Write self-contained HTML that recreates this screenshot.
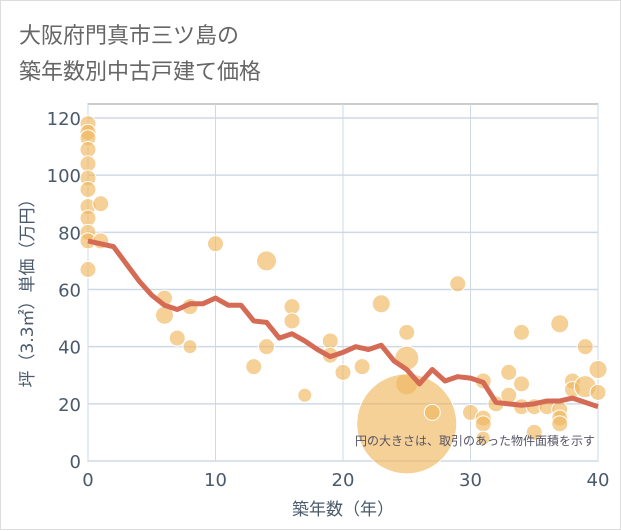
<!DOCTYPE html>
<html><head><meta charset="utf-8"><style>
body{margin:0;background:#fff;}
#c{position:relative;width:621px;height:530px;background:#fff;border:1px solid #ddd;box-sizing:border-box;font-family:"DejaVu Sans","Noto Sans CJK JP",sans-serif;}
</style></head><body>
<div id="c">
<svg width="621" height="530" style="position:absolute;left:0;top:0">
<text x="18" y="42" font-size="22" fill="#666" font-family="DejaVu Sans,Noto Sans CJK JP,sans-serif">大阪府門真市三ツ島の</text>
<text x="18" y="78" font-size="22" fill="#666" font-family="DejaVu Sans,Noto Sans CJK JP,sans-serif">築年数別中古戸建て価格</text>
<g id="grid"></g><g id="bub"></g><g id="ln"></g><g id="ax"></g>
</svg></div>
<script>
const xTicks=[0,10,20,30,40];
const yTicks=[0,20,40,60,80,100,120];
const lineYears=[0,1,2,3,4,5,6,7,8,9,10,11,12,13,14,15,16,17,18,19,20,21,22,23,24,25,26,27,28,29,30,31,32,33,34,35,36,37,38,39,40];
const lineValues=[77,76,75,69,63,58,54.5,53,55,55,57,54.5,54.5,49,48.5,43,44.5,42,39,36.5,38,40,39,40.5,35,32,27,32,28,29.5,29,27.5,20.5,20,19.5,20,21,21,22,20.5,19];
const bubbleYears=[0,0,0,0,0,0,0,0,0,0,0,0,1,1,6,6,7,8,8,10,13,14,14,16,16,17,19,19,20,21.5,23,25,25,25,25,27,29,30,31,31,31,31,32,33,33,34,34,34,35,35,36,37,37,37,37,38,38,39,39,40,40];
const bubbleValues=[118,115,113,109,104,99,95,89,85,80,77,67,90,77,57,51,43,54,40,76,33,70,40,54,49,23,42,37,31,33,55,45,36,27,13,17,62,17,28,15,13,8,20,31,23,45,27,19,19,10,19,48,18,15,13,28,25,40,26,32,24];
const bubbleSizes=[8,8,8,8,8,8,8,8,8,8,8,8,8,8,8,9,8,8,7,8,8,10,8,8,8,7,8,8,8,8,9,8,12,11,50,8,8,8,8,8,8,7,8,8,8,8,8,8,8,8,8,9,8,8,8,8,8,8,11,9,8];
const X0=87,X1=597,Y0=460,Y1=117;
const xs=v=>X0+v*(X1-X0)/40, ys=v=>Y0-v*(Y0-Y1)/120;
const NS="http://www.w3.org/2000/svg";
function mk(t,p,a){const e=document.createElementNS(NS,t);for(const k in a)e.setAttribute(k,a[k]);p.appendChild(e);return e;}
const g=document.getElementById('grid'),b=document.getElementById('bub'),l=document.getElementById('ln'),ax=document.getElementById('ax');
mk('rect',g,{x:X0,y:103,width:X1-X0,height:Y0-103,fill:'#fff',stroke:'#999'});
yTicks.forEach(v=>{const e=mk('line',g,{x1:X0,x2:X1,y1:ys(v),y2:ys(v),stroke:'#cfd9e6','stroke-width':1.5});


const t=mk('text',ax,{x:X0-7,y:ys(v)+7,'text-anchor':'end','font-size':18,fill:'#4a5a6c'});t.textContent=v;

});
xTicks.forEach(v=>{const e=mk('line',g,{x1:xs(v),x2:xs(v),y1:103,y2:Y0,stroke:'#cfd9e6','stroke-width':1});


const t=mk('text',ax,{x:xs(v),y:Y0+25,'text-anchor':'middle','font-size':18,fill:'#4a5a6c'});t.textContent=v;

});
bubbleYears.forEach((v,i)=>{const c=mk('circle',b,{cx:xs(v),cy:ys(bubbleValues[i]),r:bubbleSizes[i],fill:'#f0b760','fill-opacity':0.65,stroke:'#fff','stroke-width':1});

});
const p=mk('polyline',l,{points:lineYears.map((v,i)=>xs(v)+','+ys(lineValues[i])).join(' '),fill:'none',stroke:'#d56b55','stroke-width':5,'stroke-linejoin':'round'});


const n=mk('text',ax,{x:594,y:444,'text-anchor':'end','font-size':12,fill:'#556'});n.textContent='円の大きさは、取引のあった物件面積を示す';


const xt=mk('text',ax,{x:342,y:514,'text-anchor':'middle','font-size':17,fill:'#4a5a6c'});xt.textContent='築年数（年）';


const yt=mk('text',ax,{x:0,y:0,'text-anchor':'middle','font-size':17,fill:'#4a5a6c',transform:'translate(32,288) rotate(-90)'});yt.textContent='坪（3.3㎡）単価（万円）';


</script>
</body></html>
